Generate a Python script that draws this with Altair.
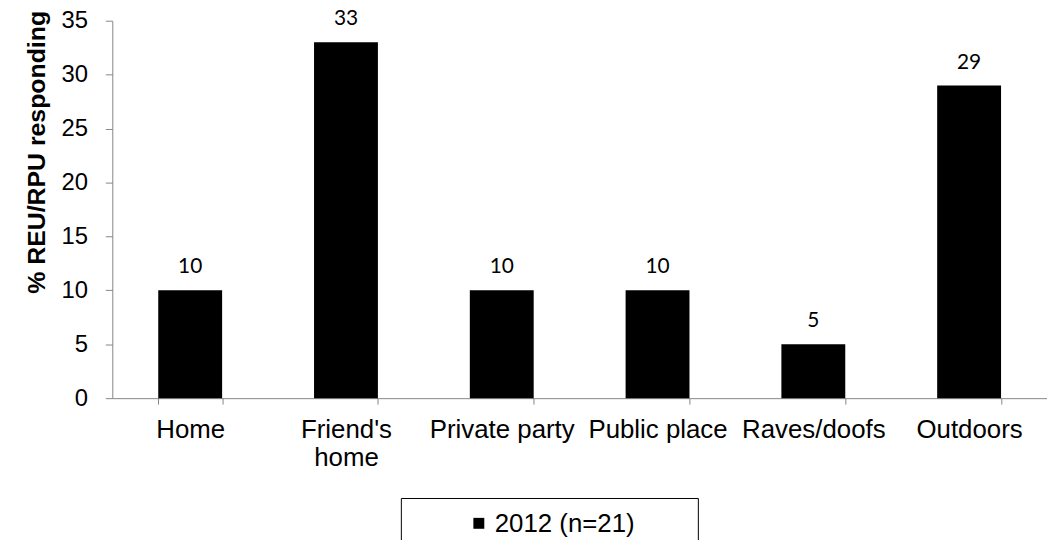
import altair as alt
import pandas as pd

categories = ["Home", "Friend's home", "Private party", "Public place", "Raves/doofs", "Outdoors"]
values = [10, 33, 10, 10, 5, 29]
series_name = "2012 (n=21)"
y_ticks = [0, 5, 10, 15, 20, 25, 30, 35]

df = pd.DataFrame({"category": categories, "value": values, "series": [series_name] * len(categories)})
legend_df = pd.DataFrame({"series": [series_name]})

AXIS_GREY = "#868686"
FONT = "Liberation Sans"

label_expr = "indexof(datum.label, 'Friend') == 0 ? split(datum.label, ' ') : datum.label"

base = alt.Chart(df).encode(
    x=alt.X(
        "category:N",
        sort=categories,
        scale=alt.Scale(paddingInner=0.59, paddingOuter=0.295),
        axis=alt.Axis(
            title=None,
            labelAngle=0,
            labelFont=FONT,
            labelFontSize=26,
            labelColor="black",
            labelPadding=13,
            labelBaseline="top",
            labelLineHeight=28,
            labelExpr=label_expr,
            domainColor=AXIS_GREY,
            tickColor=AXIS_GREY,
            tickSize=6,
            tickBand="extent",
            grid=False,
        ),
    ),
    y=alt.Y(
        "value:Q",
        scale=alt.Scale(domain=[0, 35], nice=False),
        axis=alt.Axis(
            title="% REU/RPU responding",
            values=y_ticks,
            labelFont=FONT,
            labelFontSize=24,
            labelColor="black",
            labelPadding=18,
            domainColor=AXIS_GREY,
            tickColor=AXIS_GREY,
            tickSize=7,
            grid=False,
            titleFont=FONT,
            titleFontSize=25,
            titleFontWeight="bold",
            titleColor="black",
            titleAngle=270,
            titleAlign="center",
            titleBaseline="alphabetic",
            titleX=-68,
            titleY=132,
        ),
    ),
)

bars = base.mark_bar(color="black")
labels = base.mark_text(dy=-17, baseline="alphabetic", font="Lato", fontSize=21, color="black").encode(
    text="value:Q"
)

legend_box = alt.Chart(legend_df).mark_rect(fill="white", stroke="black", strokeWidth=1).encode(
    x=alt.value(291), x2=alt.value(590), y=alt.value(481), y2=alt.value(580)
)
legend_sym = alt.Chart(legend_df).mark_square(size=121, color="black", opacity=1).encode(
    x=alt.value(369), y=alt.value(506)
)
legend_txt = alt.Chart(legend_df).mark_text(
    align="left", baseline="middle", font=FONT, fontSize=26, color="black"
).encode(x=alt.value(385), y=alt.value(507), text="series:N")

chart = (
    alt.layer(bars, labels, legend_box, legend_sym, legend_txt)
    .properties(
        width=941,
        height=380,
        autosize=alt.AutoSizeParams(type="none"),
        padding={"left": 105, "top": 11, "right": 0, "bottom": 141},
    )
    .configure_view(strokeWidth=0)
)

chart.save("out.html", embed_options={"renderer": "svg", "actions": False})
